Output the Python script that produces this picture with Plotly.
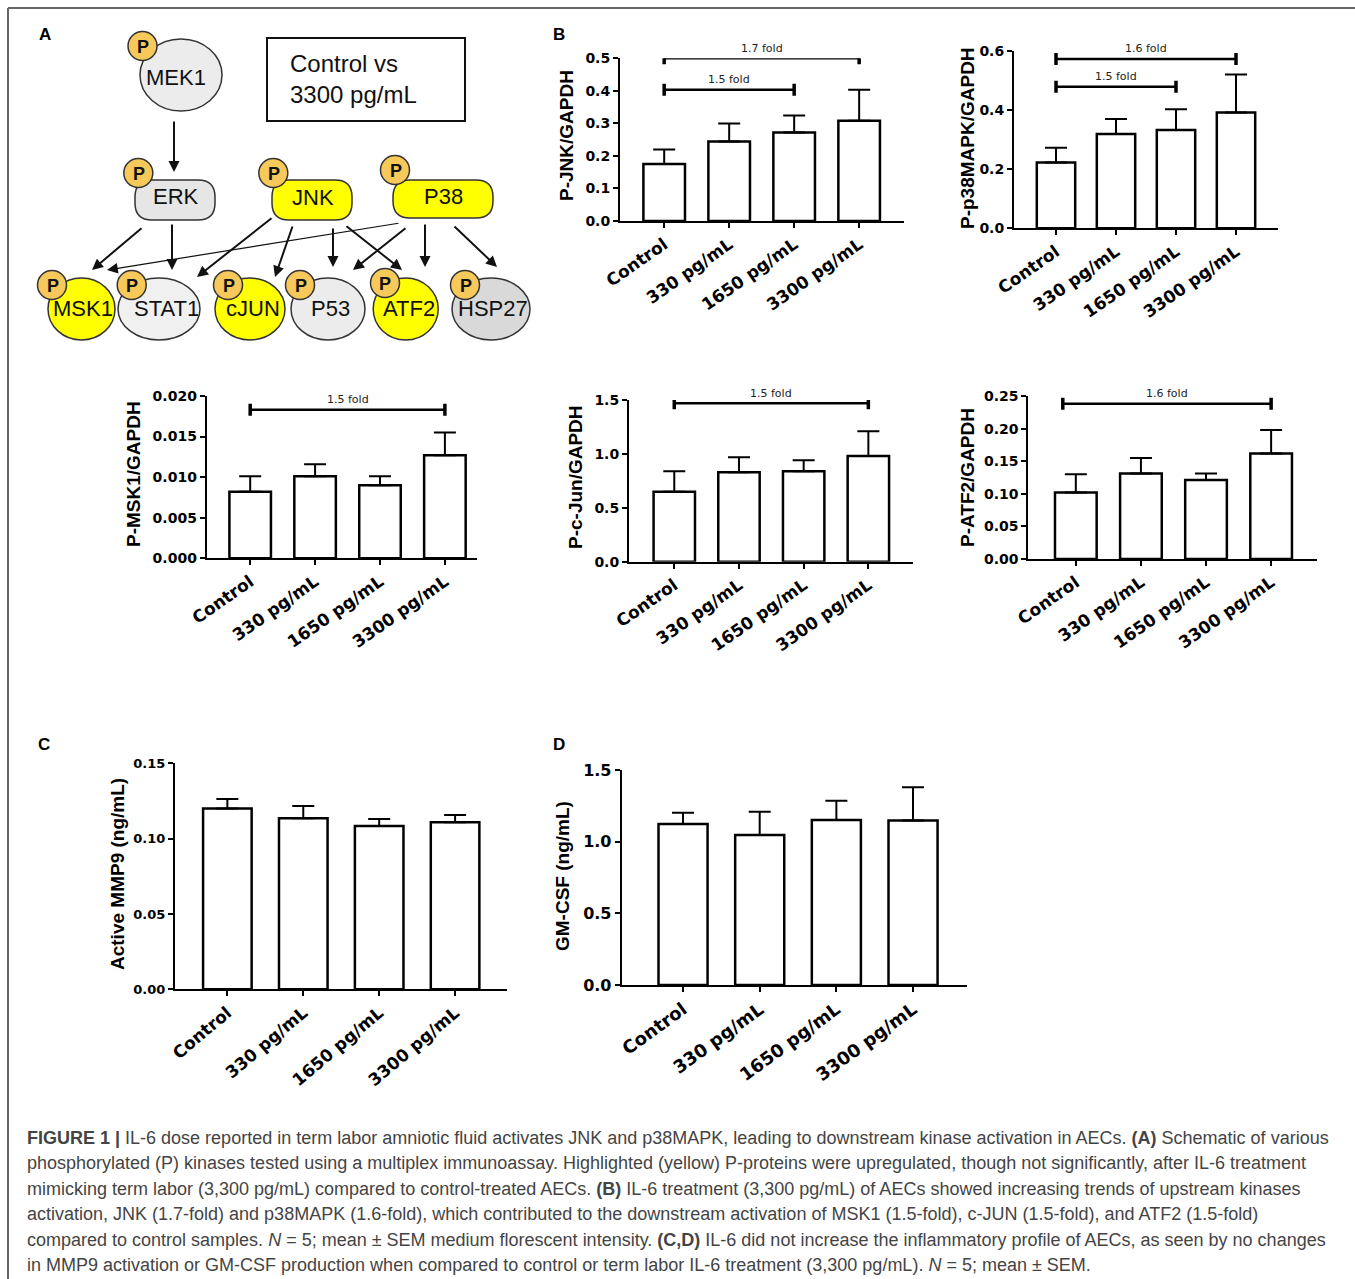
import plotly.graph_objects as go

W, H = 1355, 1279

# ---------------- data ----------------
categories = ["Control", "330 pg/mL", "1650 pg/mL", "3300 pg/mL"]

jnk_mean = [0.175, 0.244, 0.272, 0.308]
jnk_sem = [0.045, 0.056, 0.052, 0.095]
jnk_folds = [("1.7 fold", 0, 3, 0.500), ("1.5 fold", 0, 2, 0.403)]

p38_mean = [0.222, 0.319, 0.332, 0.391]
p38_sem = [0.050, 0.050, 0.070, 0.129]
p38_folds = [("1.6 fold", 0, 3, 0.572), ("1.5 fold", 0, 2, 0.478)]

msk1_mean = [0.0082, 0.0101, 0.0090, 0.0127]
msk1_sem = [0.0019, 0.0015, 0.0011, 0.0028]
msk1_folds = [("1.5 fold", 0, 3, 0.0183)]

cjun_mean = [0.65, 0.83, 0.84, 0.98]
cjun_sem = [0.19, 0.14, 0.10, 0.23]
cjun_folds = [("1.5 fold", 0, 3, 1.47)]

atf2_mean = [0.102, 0.131, 0.121, 0.162]
atf2_sem = [0.028, 0.024, 0.010, 0.036]
atf2_folds = [("1.6 fold", -0.2, 3, 0.238)]

mmp9_mean = [0.1200, 0.1135, 0.1084, 0.1108]
mmp9_sem = [0.0063, 0.0082, 0.0046, 0.0049]

gmcsf_mean = [1.123, 1.047, 1.151, 1.147]
gmcsf_sem = [0.079, 0.162, 0.135, 0.233]

jnk_ticks = [0.0, 0.1, 0.2, 0.3, 0.4, 0.5]
p38_ticks = [0.0, 0.2, 0.4, 0.6]
msk1_ticks = [0.000, 0.005, 0.010, 0.015, 0.020]
cjun_ticks = [0.0, 0.5, 1.0, 1.5]
atf2_ticks = [0.00, 0.05, 0.10, 0.15, 0.20, 0.25]
mmp9_ticks = [0.00, 0.05, 0.10, 0.15]
gmcsf_ticks = [0.0, 0.5, 1.0, 1.5]

caption_lines = [
    "<b>FIGURE 1 |</b> IL-6 dose reported in term labor amniotic fluid activates JNK and p38MAPK, leading to downstream kinase activation in AECs. <b>(A)</b> Schematic of various",
    "phosphorylated (P) kinases tested using a multiplex immunoassay. Highlighted (yellow) P-proteins were upregulated, though not significantly, after IL-6 treatment",
    "mimicking term labor (3,300 pg/mL) compared to control-treated AECs. <b>(B)</b> IL-6 treatment (3,300 pg/mL) of AECs showed increasing trends of upstream kinases",
    "activation, JNK (1.7-fold) and p38MAPK (1.6-fold), which contributed to the downstream activation of MSK1 (1.5-fold), c-JUN (1.5-fold), and ATF2 (1.5-fold)",
    "compared to control samples. <i>N</i> = 5; mean ± SEM medium florescent intensity. <b>(C,D)</b> IL-6 did not increase the inflammatory profile of AECs, as seen by no changes",
    "in MMP9 activation or GM-CSF production when compared to control or term labor IL-6 treatment (3,300 pg/mL). <i>N</i> = 5; mean ± SEM.",
]

# ---------------- layout helpers ----------------
def PX(x):
    return x / W


def PY(y):
    return 1 - y / H


charts = [
    dict(mean=jnk_mean, sem=jnk_sem, folds=jnk_folds, ticks=jnk_ticks, fmt="{:.1f}",
         title="P-JNK/GAPDH", box=(620, 904, 221, 58.3), xr=(-0.68, 3.69), tpos=(567, 136),
         yfs=14, xfs=17, ang=-35),
    dict(mean=p38_mean, sem=p38_sem, folds=p38_folds, ticks=p38_ticks, fmt="{:.1f}",
         title="P-p38MAPK/GAPDH", box=(1014, 1278, 228.3, 50.7), xr=(-0.7, 3.7), tpos=(967, 138),
         yfs=14, xfs=17, ang=-35),
    dict(mean=msk1_mean, sem=msk1_sem, folds=msk1_folds, ticks=msk1_ticks, fmt="{:.3f}",
         title="P-MSK1/GAPDH", box=(206.7, 476.7, 558.3, 396), xr=(-0.67, 3.49), tpos=(134, 474),
         yfs=14, xfs=17, ang=-35),
    dict(mean=cjun_mean, sem=cjun_sem, folds=cjun_folds, ticks=cjun_ticks, fmt="{:.1f}",
         title="P-c-Jun/GAPDH", box=(629, 913, 561.7, 400), xr=(-0.70, 3.69), tpos=(576, 477),
         yfs=14, xfs=17, ang=-35),
    dict(mean=atf2_mean, sem=atf2_sem, folds=atf2_folds, ticks=atf2_ticks, fmt="{:.2f}",
         title="P-ATF2/GAPDH", box=(1028.3, 1316.7, 559, 396), xr=(-0.73, 3.70), tpos=(968, 478),
         yfs=14, xfs=17, ang=-35),
    dict(mean=mmp9_mean, sem=mmp9_sem, folds=[], ticks=mmp9_ticks, fmt="{:.2f}",
         title="Active MMP9 (ng/mL)", box=(175, 506.7, 989.3, 763.3), xr=(-0.69, 3.68), tpos=(117, 874),
         yfs=13, xfs=17, ang=-40),
    dict(mean=gmcsf_mean, sem=gmcsf_sem, folds=[], ticks=gmcsf_ticks, fmt="{:.1f}",
         title="GM-CSF (ng/mL)", box=(621.7, 966.7, 985, 770), xr=(-0.8, 3.7), tpos=(562, 876),
         yfs=16, xfs=18, ang=-36),
]

fig = go.Figure()
shapes = []
annotations = []

for i, c in enumerate(charts, start=1):
    xa = "x" if i == 1 else f"x{i}"
    ya = "y" if i == 1 else f"y{i}"
    fig.add_trace(go.Bar(
        x=categories, y=c["mean"], xaxis=xa, yaxis=ya,
        width=0.64,
        marker=dict(color="white", line=dict(color="black", width=2.5)),
        error_y=dict(type="data", array=c["sem"], arrayminus=[0] * len(c["sem"]),
                     symmetric=False, color="black", thickness=2, width=11),
        showlegend=False,
    ))
    x0, x1, yb, yt = c["box"]
    axname = "xaxis" if i == 1 else f"xaxis{i}"
    ayname = "yaxis" if i == 1 else f"yaxis{i}"
    fig.update_layout(**{
        axname: dict(domain=[PX(x0), PX(x1)], anchor=ya, range=list(c["xr"]),
                     showline=True, linecolor="black", linewidth=2,
                     ticks="outside", ticklen=5, tickwidth=2, tickcolor="black",
                     tickangle=c["ang"],
                     tickfont=dict(family="DejaVu Sans", size=c["xfs"], color="black", weight="bold"),
                     showgrid=False, zeroline=False, fixedrange=True, automargin=False),
        ayname: dict(domain=[PY(yb), PY(yt)], anchor=xa,
                     range=[c["ticks"][0], c["ticks"][-1]],
                     tickvals=c["ticks"], ticktext=[c["fmt"].format(t) for t in c["ticks"]],
                     showline=True, linecolor="black", linewidth=2,
                     ticks="outside", ticklen=5, tickwidth=2, tickcolor="black",
                     tickfont=dict(family="DejaVu Sans", size=c["yfs"], color="black", weight="bold"),
                     showgrid=False, zeroline=False, fixedrange=True, automargin=False),
    })
    # y-axis title
    annotations.append(dict(x=PX(c["tpos"][0]), y=PY(c["tpos"][1]), xref="paper", yref="paper",
                            xanchor="center", yanchor="middle",
                            text=c["title"], textangle=-90, showarrow=False,
                            font=dict(family="Liberation Sans, Arial", size=19, color="black", weight="bold")))
    # fold brackets
    for label, a, b, lvl in c["folds"]:
        shapes.append(dict(type="line", xref=xa, yref=ya, x0=a, x1=b, y0=lvl, y1=lvl,
                           line=dict(color="black", width=2.5)))
        for e in (a, b):
            shapes.append(dict(type="line", xref=xa, yref=ya, x0=e, x1=e,
                               ysizemode="pixel", yanchor=lvl, y0=-6, y1=6,
                               line=dict(color="black", width=3.5)))
        annotations.append(dict(x=(a + b) / 2, y=lvl, xref=xa, yref=ya, yshift=10,
                                xanchor="center", yanchor="middle",
                                text=label, showarrow=False,
                                font=dict(family="DejaVu Sans", size=11, color="#222")))

# ---------------- schematic (panel A) ----------------
GRAY = "#ececec"
YEL = "#ffff00"
PCOL = "#f7c85a"
OUT = "#333333"


def ellipse(cx, cy, rx, ry, fill):
    shapes.append(dict(type="circle", xref="paper", yref="paper",
                       x0=PX(cx - rx), x1=PX(cx + rx), y0=PY(cy + ry), y1=PY(cy - ry),
                       fillcolor=fill, line=dict(color=OUT, width=1.5)))


def pill(x0, x1, y0, y1, r, fill):
    pts = [("M", [(x0 + r, y0)]), ("L", [(x1 - r, y0)]), ("Q", [(x1, y0), (x1, y0 + r)]),
           ("L", [(x1, y1 - r)]), ("Q", [(x1, y1), (x1 - r, y1)]), ("L", [(x0 + r, y1)]),
           ("Q", [(x0, y1), (x0, y1 - r)]), ("L", [(x0, y0 + r)]), ("Q", [(x0, y0), (x0 + r, y0)])]
    path = " ".join(cmd + " " + " ".join(f"{PX(px):.5f},{PY(py):.5f}" for px, py in ps) for cmd, ps in pts) + " Z"
    shapes.append(dict(type="path", xref="paper", yref="paper", path=path,
                       fillcolor=fill, line=dict(color=OUT, width=1.5)))


def label(x, y, text, size=22, bold=False, color="#111", anchor="center"):
    annotations.append(dict(x=PX(x), y=PY(y), xref="paper", yref="paper", text=text,
                            showarrow=False, xanchor=anchor, yanchor="middle",
                            font=dict(family="Liberation Sans, Arial", size=size, color=color,
                                      weight="bold" if bold else "normal")))


def pcircle(cx, cy, r=14.5):
    ellipse(cx, cy, r, r, PCOL)
    label(cx + 0.5, cy + 1, "P", size=18, bold=True, color="#111")


def arrow(tx, ty, hx, hy, w=2):
    annotations.append(dict(x=PX(hx), y=PY(hy), xref="paper", yref="paper",
                            ax=tx - hx, ay=ty - hy, axref="pixel", ayref="pixel",
                            text="", showarrow=True, arrowhead=2, arrowsize=1.1 if w >= 2 else 1.8,
                            arrowwidth=w, arrowcolor="#111", standoff=0))


# nodes
ellipse(181, 75, 41, 36, GRAY)
pill(135, 215, 180, 220, 17, "#e6e6e6")
pill(272, 352, 180, 220, 17, YEL)
pill(393, 493, 180, 218, 17, YEL)
bottom = [(81.5, 33.5, YEL), (159, 41, "#f0f0f0"), (250, 35, YEL), (328, 37, GRAY),
          (405.7, 32.5, YEL), (491, 39, "#d9d9d9")]
for cx, rx, fill in bottom:
    ellipse(cx, 309, rx, 31, fill)

# control box
shapes.append(dict(type="rect", xref="paper", yref="paper", x0=PX(267), x1=PX(465),
                   y0=PY(121), y1=PY(38), line=dict(color="#111", width=2)))
label(288, 64, "Control vs", size=24, anchor="left")
label(288, 95, "3300 pg/mL", size=24, anchor="left")

# P circles
for cx, cy in [(142.5, 46), (138.3, 173), (273.3, 173), (395, 170), (52, 285), (131.7, 285),
               (228, 285), (300, 285), (385, 283), (465, 285)]:
    pcircle(cx, cy)

# node labels
label(176, 78, "MEK1")
label(175.5, 197, "ERK")
label(312.5, 198, "JNK")
label(443, 197, "P38")
for x, t in [(83, "MSK1"), (166, "STAT1"), (252.5, "cJUN"), (330, "P53"), (409, "ATF2"), (492.5, "HSP27")]:
    label(x, 308, t)

# arrows
arrow(174, 120, 174, 172)
arrow(143, 227, 92, 270)
arrow(172, 223, 172, 270)
arrow(273, 217, 197, 277)
arrow(293, 225, 275, 277)
arrow(333, 227, 333, 267)
arrow(345, 225, 402, 270)
arrow(400, 223, 107, 270, w=1.2)
arrow(407, 227, 353, 270)
arrow(425, 223, 425, 267)
arrow(453, 225, 497, 267)

# panel letters
for x, y, t in [(45, 35, "A"), (559, 35, "B"), (44, 744, "C"), (559, 744, "D")]:
    label(x, y, t, size=17, bold=True, color="black")

# frame
shapes.append(dict(type="line", xref="paper", yref="paper", x0=PX(8), x1=1, y0=PY(8), y1=PY(8),
                   line=dict(color="#666", width=2)))
shapes.append(dict(type="line", xref="paper", yref="paper", x0=PX(8), x1=PX(8), y0=PY(8), y1=0,
                   line=dict(color="#666", width=2)))

# caption
for k, line in enumerate(caption_lines):
    yc = 1138 + k * 25.4
    annotations.append(dict(x=PX(25), y=PY(yc), xref="paper", yref="paper", text=line,
                            showarrow=False, xanchor="left", yanchor="middle", align="left",
                            font=dict(family="Liberation Sans, Arial", size=18, color="#444")))

fig.update_layout(
    width=W, height=H, margin=dict(l=0, r=0, t=0, b=0, pad=0, autoexpand=False),
    paper_bgcolor="white", plot_bgcolor="white",
    shapes=shapes, annotations=annotations, bargap=0.3,
    font=dict(family="Liberation Sans, Arial", color="black"),
)

fig.write_html("out.html", config={"displayModeBar": False},
               post_script="document.body.style.margin='0px';document.body.style.overflow='hidden';")
